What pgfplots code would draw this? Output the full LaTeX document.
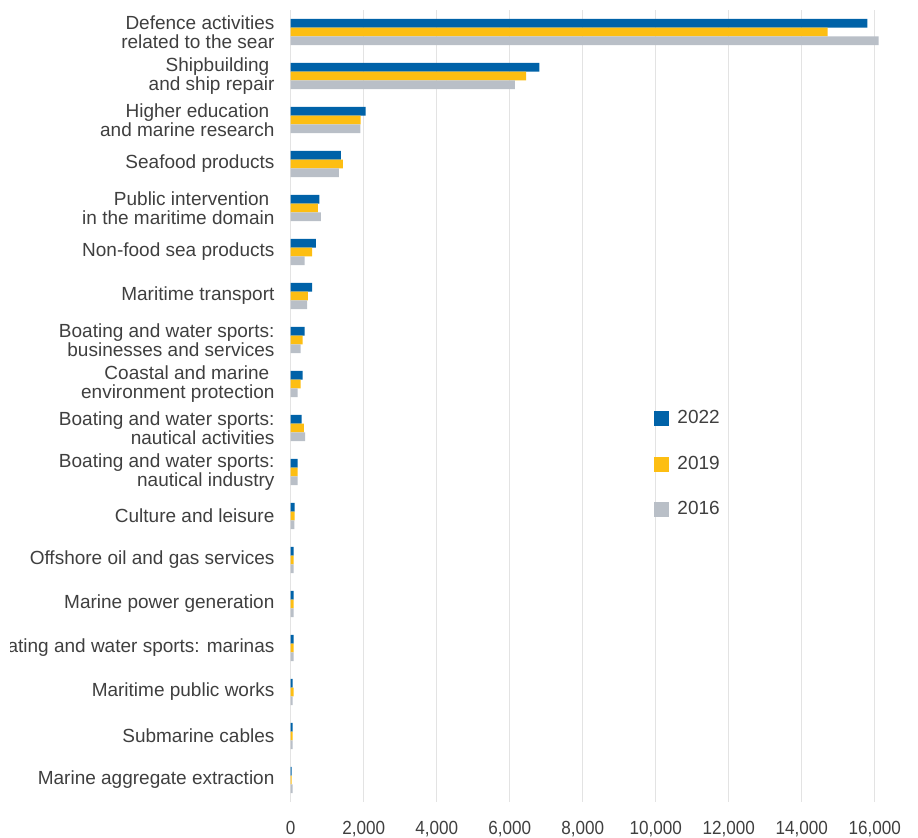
\documentclass[border=0pt]{standalone}
\usepackage{pgfplots}
\usepackage{pgfplotstable}
\pgfplotsset{compat=1.18}
\usepackage{fontspec}
\setmainfont{Liberation Sans}
\newfontfamily\condensed[FakeStretch=0.9]{Liberation Sans}
\definecolor{c22}{HTML}{0062A8}
\definecolor{c19}{HTML}{FDBE12}
\definecolor{c16}{HTML}{B9BFC7}
\definecolor{txt}{HTML}{3F3F3F}
\definecolor{gridc}{HTML}{E3E3E3}

\pgfplotstableread{
idx y2022 y2019 y2016
0 15797 14712 16110
1 6810 6450 6140
2 2055 1918 1910
3 1378 1433 1323
4 785 748 830
5 693 584 384
6 584 474 447
7 384 329 274
8 329 274 192
9 301 364 392
10 192 192 192
11 110 110 100
12 82 82 82
13 82 82 82
14 82 82 82
15 55 82 55
16 55 55 55
17 27 27 55
}\data

\begin{document}
\begin{tikzpicture}
\begin{axis}[
  scale only axis, width=299.3pt, height=396pt,
  xbar=0pt, bar width=4.4pt,
  y dir=reverse, ymin=-0.5, ymax=17.5,
  xmin=0, xmax=16400,
  xtick={0,2000,...,16000},
  scaled x ticks=false,
  ytick={0,...,17},
  yticklabels={
    {Defence activities\\related to the sear},
    {Shipbuilding\hspace*{2.6pt}\\and ship repair},
    {Higher education\hspace*{2.6pt}\\and marine research},
    {Seafood products},
    {Public intervention\hspace*{2.6pt}\\in the maritime domain},
    {Non-food sea products},
    {Maritime transport},
    {Boating and water sports:\\businesses and services},
    {Coastal and marine\hspace*{2.6pt}\\environment protection},
    {Boating and water sports:\\nautical activities},
    {Boating and water sports:\\nautical industry},
    {Culture and leisure},
    {Offshore oil and gas services},
    {Marine power generation},
    {Boating and water sports: marinas},
    {Maritime public works},
    {Submarine cables},
    {Marine aggregate extraction}},
  yticklabel style={align=right, font=\fontsize{9.5}{9.5}\selectfont, text=txt, xshift=-4.6pt},
  xticklabel style={font=\condensed\fontsize{9.5}{9.5}\selectfont, text=txt},
  xticklabel shift=6pt,
  /pgf/number format/assume math mode=true,
  /pgf/number format/1000 sep={,},
  axis line style={draw=none},
  major tick length=0pt,
  xmajorgrids, grid style={gridc, line width=0.75pt},
  legend style={at={(0.597,0.5054)}, anchor=north west, draw=none, fill=none,
    font=\fontsize{9.5}{9.5}\selectfont, text=txt, row sep=10.75pt,
    nodes={inner sep=2pt}},
  legend cell align=left,
  legend image code/.code={\fill[#1,draw=none] (0pt,-3.75pt) rectangle (7.5pt,3.75pt); \path (9.5pt,0pt);},
]
\addplot[fill=c22, draw=none, bar shift=4.4pt] table[x=y2022, y=idx] {\data};
\addplot[fill=c19, draw=none, bar shift=0pt] table[x=y2019, y=idx] {\data};
\addplot[fill=c16, draw=none, bar shift=-4.4pt] table[x=y2016, y=idx] {\data};
\legend{2022,2019,2016}
\coordinate (BL) at (axis description cs:0,0);
\coordinate (TR) at (axis description cs:1,1);
\end{axis}
\fill[white] ([shift={(-146pt,-19pt)}]BL) rectangle ([shift={(-140.5pt,6pt)}]BL |- TR);
\pgfresetboundingbox
\path[use as bounding box] ([shift={(-145.35pt,-18pt)}]BL) rectangle ([shift={(14.35pt,5pt)}]TR);
\end{tikzpicture}
\end{document}
